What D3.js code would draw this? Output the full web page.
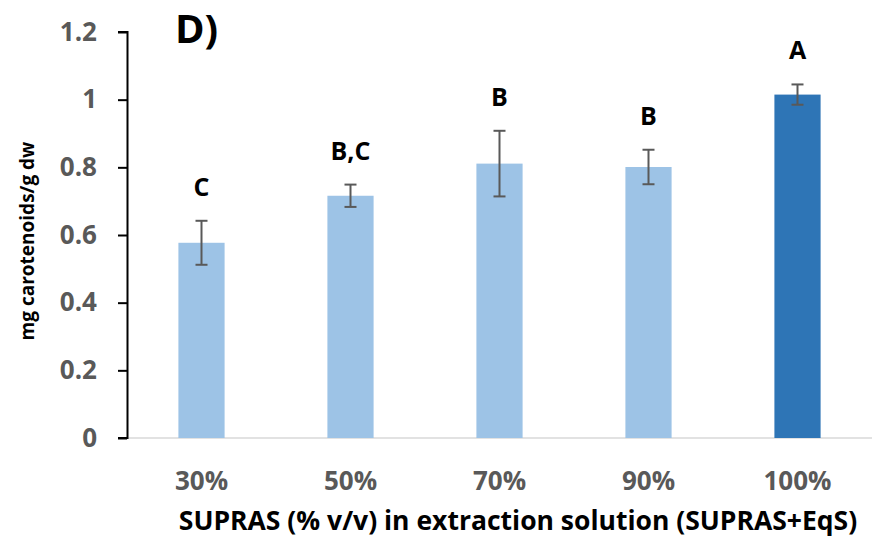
<!DOCTYPE html>
<html>
<head>
<meta charset="utf-8">
<script src="https://cdn.jsdelivr.net/npm/d3@7"></script>
<style>
  body { margin: 0; background: #fff; }
  svg { display: block; font-family: "Open Sans", "Noto Sans", sans-serif; }
</style>
</head>
<body>
<div id="chart"></div>
<script>
// data
var categories = ['30%', '50%', '70%', '90%', '100%'];
var values = [0.577, 0.716, 0.811, 0.801, 1.015];
var errors = [0.065, 0.033, 0.097, 0.051, 0.030];
var letters = ['C', 'B,C', 'B', 'B', 'A'];
var yTicks = [0, 0.2, 0.4, 0.6, 0.8, 1, 1.2];

var width = 880, height = 540;
var margin = { top: 32, right: 8, bottom: 102, left: 127 };
var font = '"Open Sans", "Noto Sans", sans-serif';

var svg = d3.select('#chart').append('svg')
  .attr('width', width)
  .attr('height', height);

var x = d3.scaleBand()
  .domain(categories)
  .range([margin.left, width - margin.right])
  .paddingInner(0.69)
  .paddingOuter(0.345);

var y = d3.scaleLinear()
  .domain([0, 1.2])
  .range([height - margin.bottom, margin.top]);

// x axis baseline (light grey)
svg.append('line')
  .attr('x1', margin.left).attr('x2', width - margin.right)
  .attr('y1', y(0)).attr('y2', y(0))
  .attr('stroke', '#d9d9d9')
  .attr('stroke-width', 1.5);

// bars
svg.selectAll('rect.bar')
  .data(values)
  .enter().append('rect')
  .attr('class', 'bar')
  .attr('x', (d, i) => x(categories[i]))
  .attr('width', x.bandwidth())
  .attr('y', d => y(d))
  .attr('height', d => y(0) - y(d))
  .attr('fill', (d, i) => i === categories.length - 1 ? '#2e75b6' : '#9dc3e6');

// error bars
var err = svg.selectAll('g.err')
  .data(values)
  .enter().append('g')
  .attr('class', 'err')
  .attr('stroke', '#595959')
  .attr('stroke-width', 2);

err.append('line')
  .attr('x1', (d, i) => x(categories[i]) + x.bandwidth() / 2)
  .attr('x2', (d, i) => x(categories[i]) + x.bandwidth() / 2)
  .attr('y1', (d, i) => y(d + errors[i]))
  .attr('y2', (d, i) => y(d - errors[i]));

[1, -1].forEach(s => {
  err.append('line')
    .attr('x1', (d, i) => x(categories[i]) + x.bandwidth() / 2 - 6)
    .attr('x2', (d, i) => x(categories[i]) + x.bandwidth() / 2 + 6)
    .attr('y1', (d, i) => y(d + s * errors[i]))
    .attr('y2', (d, i) => y(d + s * errors[i]));
});

// significance letters
svg.selectAll('text.letter')
  .data(values)
  .enter().append('text')
  .attr('class', 'letter')
  .attr('x', (d, i) => x(categories[i]) + x.bandwidth() / 2)
  .attr('y', (d, i) => y(d + errors[i]) - 25)
  .attr('text-anchor', 'middle')
  .attr('font-size', 25)
  .attr('font-weight', 'bold')
  .attr('fill', '#000')
  .text((d, i) => letters[i]);

// y axis
var yAxis = svg.append('g')
  .attr('transform', 'translate(' + margin.left + ',0)')
  .call(d3.axisLeft(y).tickValues(yTicks).tickSize(9).tickPadding(21)
    .tickFormat(d => d3.format('')(d)));

yAxis.select('.domain')
  .attr('d', 'M-9,' + y(1.2) + 'H0.5V' + y(0) + 'H-9')
  .attr('stroke', '#000')
  .attr('stroke-width', 2);
yAxis.selectAll('.tick line').attr('stroke', '#000').attr('stroke-width', 2);
yAxis.selectAll('.tick text')
  .attr('font-family', font)
  .attr('font-size', 26)
  .attr('font-weight', 'bold')
  .attr('fill', '#595959');

// x tick labels
svg.selectAll('text.xlab')
  .data(categories)
  .enter().append('text')
  .attr('class', 'xlab')
  .attr('x', d => x(d) + x.bandwidth() / 2)
  .attr('y', y(0) + 52)
  .attr('text-anchor', 'middle')
  .attr('font-size', 26)
  .attr('font-weight', 'bold')
  .attr('fill', '#595959')
  .text(d => d);

// axis titles
svg.append('text')
  .attr('x', 518)
  .attr('y', 530)
  .attr('text-anchor', 'middle')
  .attr('font-size', 26.5)
  .attr('font-weight', 'bold')
  .attr('fill', '#000')
  .text('SUPRAS (% v/v) in extraction solution (SUPRAS+EqS)');

svg.append('text')
  .attr('transform', 'translate(34,241) rotate(-90)')
  .attr('text-anchor', 'middle')
  .attr('font-size', 19)
  .attr('font-weight', 'bold')
  .attr('fill', '#000')
  .text('mg carotenoids/g dw');

// panel label
svg.append('text')
  .attr('x', 175)
  .attr('y', 43)
  .attr('font-size', 40)
  .attr('font-weight', 'bold')
  .attr('fill', '#000')
  .text('D)');
</script>
</body>
</html>
